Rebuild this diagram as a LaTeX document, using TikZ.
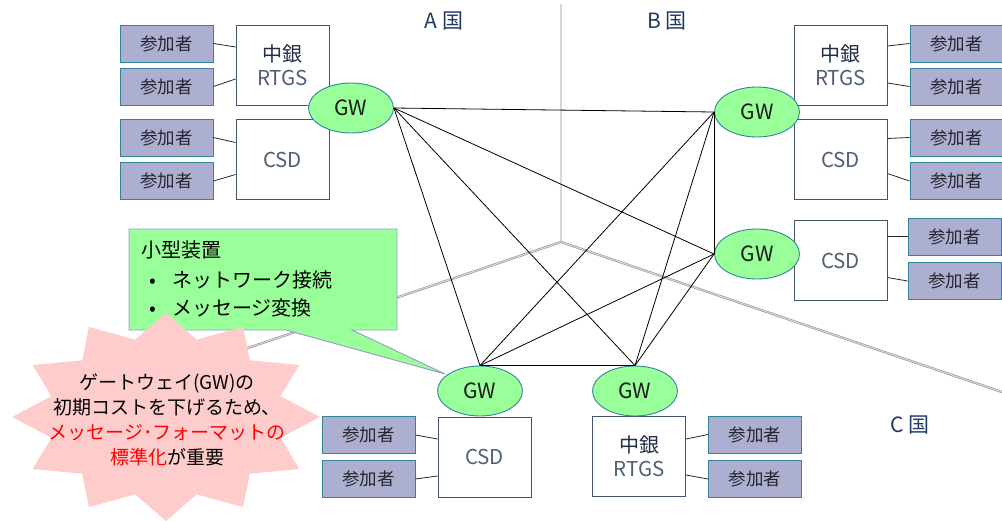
\documentclass[tikz,border=0pt]{standalone}
\usepackage{fontspec}
\setmainfont{Noto Sans CJK JP}
\usetikzlibrary{calc,shapes.geometric}
\definecolor{partfill}{RGB}{172,175,208}
\definecolor{partborder}{RGB}{49,132,155}
\definecolor{parttext}{RGB}{38,38,48}
\definecolor{boxborder}{RGB}{68,84,106}
\definecolor{boxtext}{RGB}{31,45,69}
\definecolor{rtgstext}{RGB}{80,96,118}
\definecolor{gwfill}{RGB}{153,255,153}
\definecolor{gwborder}{RGB}{49,133,156}
\definecolor{gwtext}{RGB}{26,26,26}
\definecolor{navy}{RGB}{31,56,100}
\definecolor{calloutborder}{RGB}{153,153,204}
\definecolor{starfill}{RGB}{255,204,204}
\definecolor{bggray}{RGB}{150,150,150}
\definecolor{bgmid}{RGB}{215,215,215}
\begin{document}
\begin{tikzpicture}[x=1pt,y=-1pt,
  part/.style={draw=partborder, fill=partfill, line width=0.9pt, minimum width=93pt, minimum height=37pt, inner sep=0pt, font=\fontsize{17.5}{20}\selectfont, text=parttext},
  sysbox/.style={draw=boxborder, fill=white, line width=0.9pt, minimum width=93pt, minimum height=80pt, inner sep=0pt, align=center, text=boxtext, font=\fontsize{20.5}{24}\selectfont},
  gw/.style={ellipse, draw=gwborder, fill=gwfill, line width=0.9pt, minimum width=85pt, minimum height=50pt, inner sep=0pt, font=\fontsize{21}{24}\selectfont, text=gwtext},
  mesh/.style={draw=black, line width=0.8pt},
  link/.style={draw=black!85, line width=0.8pt},
  bgline/.style={draw=bggray, double=bgmid, double distance=1.1pt, line width=0.6pt},
  country/.style={font=\fontsize{21}{24}\selectfont, text=navy, inner sep=0pt},
]
\useasboundingbox (0,0) rectangle (1002,520);
\newcommand{\rtgs}{{\fontsize{20}{24}\selectfont 中銀}\\{\color{rtgstext}RTGS}}
\newcommand{\csd}{{\color{rtgstext}CSD}}

% background perspective lines
\coordinate (corner) at (561,242);
\coordinate (topend) at (561,4);
\coordinate (leftend) at (100,398);
\coordinate (rightend) at (1002,392);
\draw[bgline] (topend) -- (corner);
\draw[bgline] (corner) -- (leftend);
\draw[bgline] (corner) -- (rightend);

% country labels
\node[country] (labA) at (444,21) {A 国};
\node[country] (labB) at (667,21) {B 国};
\node[country] (labC) at (910,425) {C 国};

% A country
\node[sysbox] (rA) at (282.5,65) {\rtgs};
\node[sysbox] (cA) at (282.5,159.5) {\csd};
\node[part] (pA1) at (166.5,43.5) {参加者};
\node[part] (pA2) at (166.5,86.5) {参加者};
\node[part] (pA3) at (166.5,137.5) {参加者};
\node[part] (pA4) at (166.5,181) {参加者};
\draw[link] (pA1.east) -- ([yshift=18pt]rA.west);
\draw[link] (pA2.east) -- ([yshift=-14pt]rA.west);
\draw[link] (pA3.east) -- ([yshift=17pt]cA.west);
\draw[link] (pA4.east) -- ([yshift=-15pt]cA.west);

% B country
\node[sysbox] (rB) at (840.5,65) {\rtgs};
\node[sysbox] (cB) at (840.5,159.5) {\csd};
\node[sysbox] (cB2) at (840.5,260.5) {\csd};
\node[part] (pB1) at (956.5,43.5) {参加者};
\node[part] (pB2) at (956.5,86.5) {参加者};
\node[part] (pB3) at (956.5,137.5) {参加者};
\node[part] (pB4) at (956.5,181) {参加者};
\node[part] (pB5) at (954.5,236.5) {参加者};
\node[part] (pB6) at (954.5,281) {参加者};
\draw[link] (pB1.west) -- ([yshift=19pt]rB.east);
\draw[link] (pB2.west) -- ([yshift=-18pt]rB.east);
\draw[link] (pB3.west) -- ([yshift=21pt]cB.east);
\draw[link] (pB4.west) -- ([yshift=-14pt]cB.east);
\draw[link] (pB5.west) -- ([yshift=24pt]cB2.east);
\draw[link] (pB6.west) -- ([yshift=-17pt]cB2.east);

% C country (bottom)
\node[sysbox] (cC) at (484.5,457) {\csd};
\node[sysbox] (rC) at (639,456.5) {\rtgs};
\node[part] (pC1) at (368.5,435) {参加者};
\node[part] (pC2) at (368.5,479) {参加者};
\node[part] (pC3) at (755,434.5) {参加者};
\node[part] (pC4) at (755,479) {参加者};
\draw[link] (pC1.east) -- ([yshift=18pt]cC.west);
\draw[link] (pC2.east) -- ([yshift=-19pt]cC.west);
\draw[link] (pC3.west) -- ([yshift=17.5pt]rC.east);
\draw[link] (pC4.west) -- ([yshift=-18.5pt]rC.east);

% gateways
\node[gw] (gA) at (351,108) {GW};
\node[gw] (gB1) at (757,112) {GW};
\node[gw] (gB2) at (757,254) {GW};
\node[gw] (gC1) at (480,391) {GW};
\node[gw] (gC2) at (635,391) {GW};

% mesh
\draw[mesh] (gA.east) -- (gB1.west);
\draw[mesh] (gA.east) -- (gB2.west);
\draw[mesh] (gA.east) -- (gC1.north);
\draw[mesh] (gA.east) -- (gC2.north);
\draw[mesh] (gB1.west) -- (gB2.west);
\draw[mesh] (gB1.west) -- (gC1.north);
\draw[mesh] (gB1.west) -- (gC2.north);
\draw[mesh] (gB2.west) -- (gC1.north);
\draw[mesh] (gB2.west) -- (gC2.north);
\draw[mesh] (gC1.north) -- (gC2.north);

% callout
\coordinate (tip) at (445,374);
\draw[draw=calloutborder, fill=gwfill, line width=0.9pt]
  (129,229) -- (397,229) -- (397,330) -- (352,330) -- (tip) -- (286,330) -- (129,330) -- cycle;
\node[anchor=west, inner sep=0pt, font=\fontsize{20}{24}\selectfont] (co1) at (141,250) {小型装置};
\node[anchor=west, inner sep=0pt, font=\fontsize{20}{24}\selectfont] (co2) at (149,280) {\makebox[23pt][l]{•}ネットワーク接続};
\node[anchor=west, inner sep=0pt, font=\fontsize{20}{24}\selectfont] (co3) at (149,308) {\makebox[23pt][l]{•}メッセージ変換};

% starburst
\foreach \i in {0,...,23}{
  \pgfmathsetmacro\rr{ifthenelse(mod(\i,2)==0,1,0.77)}
  \coordinate (s\i) at ({166+154*\rr*cos(90-15*\i)}, {417-104*\rr*sin(90-15*\i)});
}
\fill[starfill] (s0) \foreach \i in {1,...,23}{ -- (s\i)} -- cycle;
\node[align=center, inner sep=0pt, font=\fontsize{19}{25}\selectfont] (star) at (167,420)
  {ゲートウェイ(GW)の\\初期コストを下げるため、\\\textcolor{red}{メッセージ･フォーマットの}\\\textcolor{red}{標準化}が重要};
\end{tikzpicture}
\end{document}
